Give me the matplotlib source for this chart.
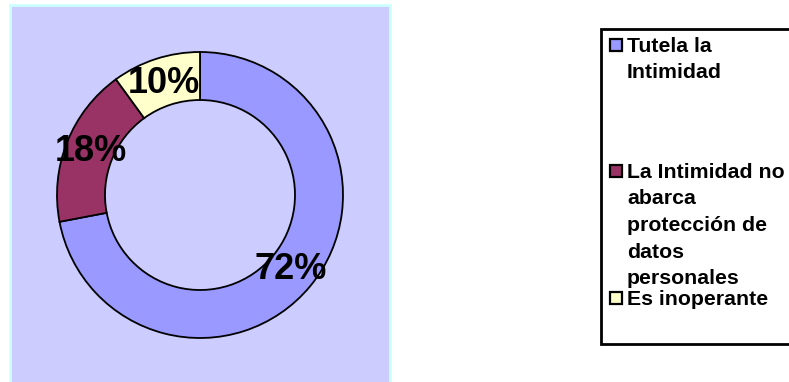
import matplotlib
matplotlib.use("Agg")
import matplotlib.pyplot as plt
from matplotlib.patches import Rectangle

labels = ["Tutela la\nIntimidad",
          "La Intimidad no\nabarca\nprotección de\ndatos\npersonales",
          "Es inoperante"]
shares = [72, 18, 10]
colors = ["#9999FF", "#993366", "#FFFFCC"]

W, H = 789, 382
plt.rcParams['font.family'] = ['Liberation Sans', 'DejaVu Sans']

fig = plt.figure(figsize=(W / 100, H / 100), dpi=100)
ax = fig.add_axes([0, 0, 1, 1])

# plot area background
ax.add_patch(Rectangle((10, -10), 380, H - 5 + 10, facecolor="#CCCCFF",
                       edgecolor="#CCFFFF", lw=2, zorder=0))

wedges, texts, autotexts = ax.pie(
    shares, colors=colors, startangle=90, counterclock=False,
    center=(200, H - 195), radius=143, frame=True,
    autopct='%d%%', pctdistance=0.82,
    wedgeprops=dict(width=48, edgecolor='black', linewidth=1.3),
    textprops=dict(fontsize=26, fontweight='bold', color='black'))
ax.set_xlim(0, W)
ax.set_ylim(0, H)
ax.set_aspect('auto')
ax.axis('off')

# legend box, entries spread like the original
ax.add_patch(Rectangle((601, H - 344), 200, 315, facecolor='white',
                       edgecolor='black', lw=2, zorder=3))
baselines = [52, 178, 305]
for lab, col, yb in zip(labels, colors, baselines):
    ax.add_patch(Rectangle((610, H - yb + 1), 12, 12, facecolor=col,
                           edgecolor='black', lw=1.6, zorder=4))
    for k, line in enumerate(lab.split("\n")):
        ax.text(627, H - yb - 26.5 * k, line, fontsize=15.3, fontweight='bold',
                va='baseline', ha='left', zorder=5)

fig.savefig("out.png", dpi=100)
